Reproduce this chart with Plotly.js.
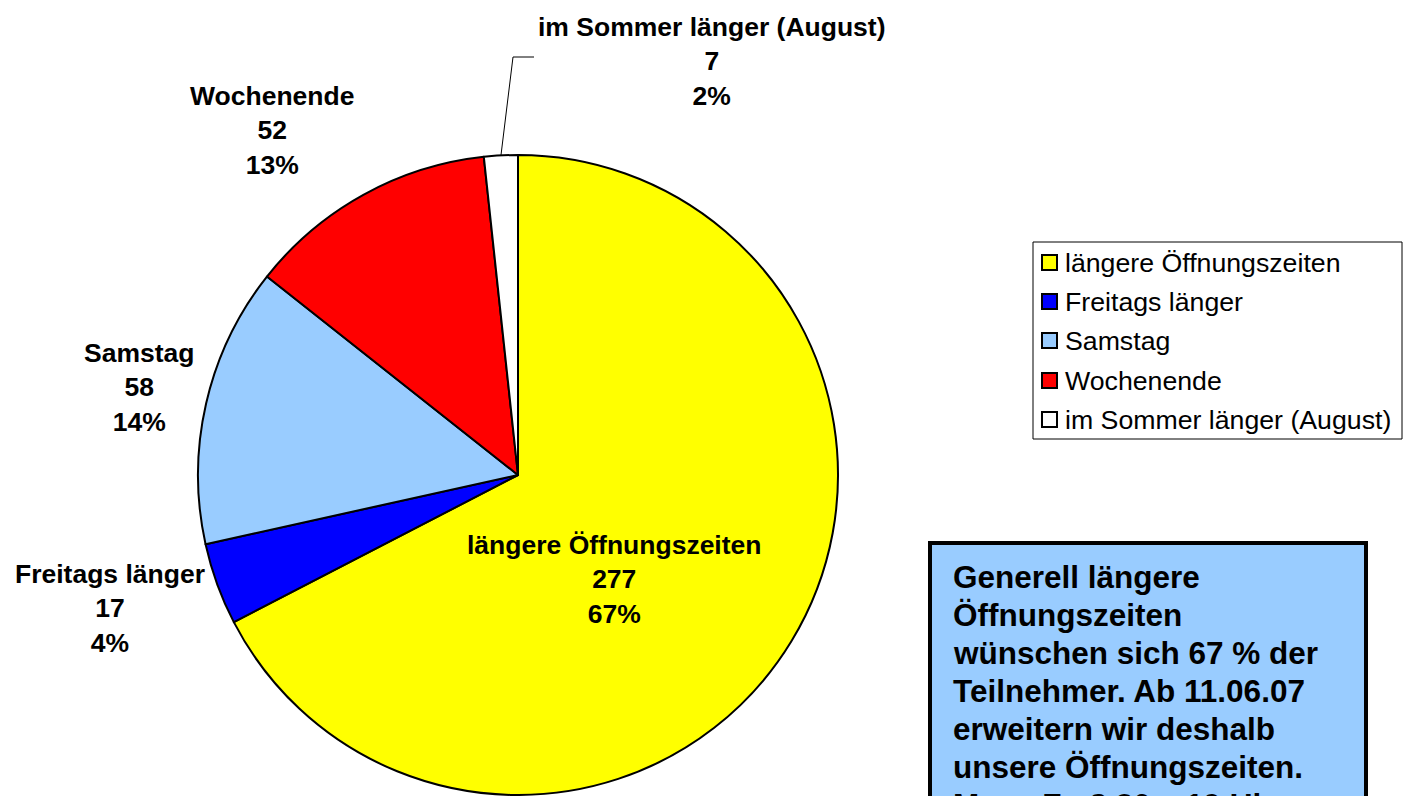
<!DOCTYPE html>
<html>
<head>
<meta charset="utf-8">
<script src="https://cdn.plot.ly/plotly-3.0.1.min.js"></script>
<style>html,body{margin:0;padding:0;background:#fff;}#chart{width:1412px;height:796px;}</style>
</head>
<body>
<div id="chart"></div>
<script>
const categories = ["längere Öffnungszeiten", "Freitags länger", "Samstag", "Wochenende", "im Sommer länger (August)"];
const counts = [277, 17, 58, 52, 7];
const colors = ["#FFFF00", "#0000FF", "#99CCFF", "#FF0000", "#FFFFFF"];
const noteLines = ["Generell längere", "Öffnungszeiten", "wünschen sich 67 % der", "Teilnehmer. Ab 11.06.07", "erweitern wir deshalb", "unsere Öffnungszeiten.", "Mo. – Fr. 8.30 – 19 Uhr"];

// label anchor positions in page pixels (layout only)
const labelPos = [[614, 579], [110, 608], [139, 387], [272, 130], [712, 62]];

const W = 1412, H = 796;
const px = x => x / W;
const py = y => 1 - y / H;
const FONT = '"Liberation Sans", Arial, sans-serif';

const total = counts.reduce((a, b) => a + b, 0);

const trace = {
  type: 'pie',
  labels: categories,
  values: counts,
  sort: false,
  direction: 'clockwise',
  rotation: 0,
  textinfo: 'none',
  hoverinfo: 'label+value+percent',
  marker: {colors: colors, line: {color: '#000000', width: 2}},
  domain: {x: [px(198), px(838)], y: [py(795), py(155)]},
  showlegend: false
};

const annotations = [];
const shapes = [];

categories.forEach((c, i) => {
  const pct = Math.round(counts[i] / total * 100);
  annotations.push({
    xref: 'paper', yref: 'paper', x: px(labelPos[i][0]), y: py(labelPos[i][1]),
    xanchor: 'center', yanchor: 'middle', showarrow: false,
    text: c + '<br>' + counts[i] + '<br>' + pct + '%',
    font: {family: FONT, size: 26.5, color: '#000', weight: 'bold'},
    align: 'center'
  });
});

// leader line for small slice
shapes.push({type: 'line', xref: 'paper', yref: 'paper', x0: px(501), y0: py(155), x1: px(513), y1: py(57), line: {color: '#000', width: 1}});
shapes.push({type: 'line', xref: 'paper', yref: 'paper', x0: px(513), y0: py(57), x1: px(534), y1: py(57), line: {color: '#000', width: 1}});

// manual legend
shapes.push({type: 'rect', xref: 'paper', yref: 'paper', x0: px(1033), y0: py(242), x1: px(1402), y1: py(439), line: {color: '#000', width: 1}, fillcolor: 'rgba(0,0,0,0)'});
const rowY = [263, 302, 341, 381, 420];
categories.forEach((c, i) => {
  const cy = rowY[i];
  shapes.push({type: 'rect', xref: 'paper', yref: 'paper', x0: px(1042), y0: py(cy + 7), x1: px(1057), y1: py(cy - 8), line: {color: '#000', width: 2}, fillcolor: colors[i]});
  annotations.push({
    xref: 'paper', yref: 'paper', x: px(1063), y: py(cy), xanchor: 'left', yanchor: 'middle', showarrow: false,
    text: c, font: {family: FONT, size: 26.7, color: '#000'}
  });
});

// note box
shapes.push({type: 'rect', xref: 'paper', yref: 'paper', x0: px(930), y0: py(543), x1: px(1366), y1: py(830), line: {color: '#000', width: 4}, fillcolor: '#99CCFF'});
noteLines.forEach((t, i) => {
  annotations.push({
    xref: 'paper', yref: 'paper', x: px(951), y: py(577 + 38 * i), xanchor: 'left', yanchor: 'middle', showarrow: false,
    align: 'left', text: t,
    font: {family: FONT, size: 31.5, color: '#000', weight: 'bold'}
  });
});

const layout = {
  width: W, height: H, autosize: false,
  margin: {l: 0, r: 0, t: 0, b: 0, pad: 0},
  paper_bgcolor: '#FFFFFF', plot_bgcolor: '#FFFFFF',
  showlegend: false,
  annotations: annotations,
  shapes: shapes
};

Plotly.newPlot('chart', [trace], layout, {displayModeBar: false, staticPlot: true});
</script>
</body>
</html>
